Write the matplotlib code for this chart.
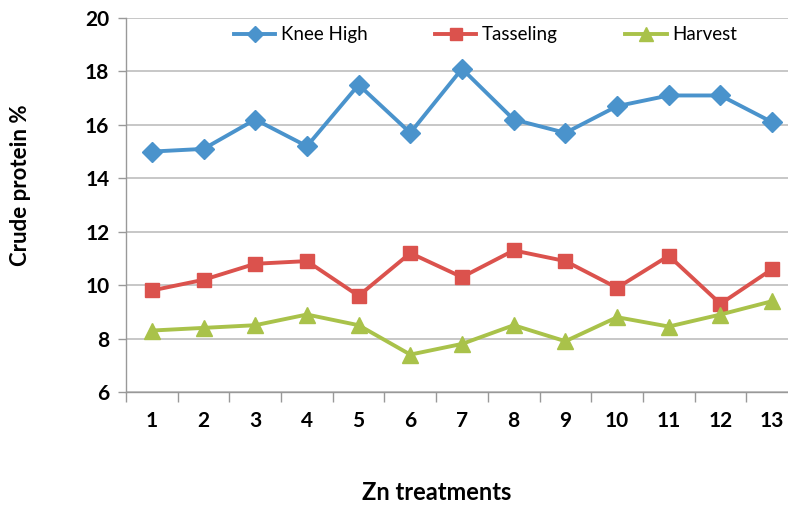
import matplotlib
matplotlib.use("Agg")
import matplotlib.pyplot as plt
import numpy as np

treatments = [str(i) for i in range(1, 14)]
knee_high = [15.0, 15.1, 16.2, 15.2, 17.5, 15.7, 18.1, 16.2, 15.7, 16.7, 17.1, 17.1, 16.1]
tasseling = [9.8, 10.2, 10.8, 10.9, 9.6, 11.2, 10.3, 11.3, 10.9, 9.9, 11.1, 9.3, 10.6]
harvest = [8.3, 8.4, 8.5, 8.9, 8.5, 7.4, 7.8, 8.5, 7.9, 8.8, 8.45, 8.9, 9.4]
y_ticks = [6, 8, 10, 12, 14, 16, 18, 20]

plt.rcParams['font.family'] = ['Lato', 'DejaVu Sans']

W, H = 788, 505
fig = plt.figure(figsize=(W / 100, H / 100), dpi=100)
ax = fig.add_axes([126 / W, (H - 392) / H, (798 - 126) / W, (392 - 18) / H])

x = np.arange(len(treatments))
blue, red, green = '#4A93CC', '#DB524D', '#A9C24A'
ax.plot(x, knee_high, color=blue, lw=2.8, marker='D', ms=10, label='Knee High')
ax.plot(x, tasseling, color=red, lw=2.8, marker='s', ms=10.5, label='Tasseling')
ax.plot(x, harvest, color=green, lw=2.8, marker='^', ms=12, label='Harvest')

ax.set_xlim(-0.5, len(treatments) - 0.5)
ax.set_ylim(6, 20)
ax.set_yticks(y_ticks)
ax.set_yticklabels([str(v) for v in y_ticks], fontsize=15, fontweight='bold')
ax.set_xticks(x)
ax.set_xticklabels(treatments, fontsize=15, fontweight='bold')
ax.set_xticks(np.arange(-0.5, len(treatments), 1), minor=True)
ax.tick_params(axis='x', which='major', length=0, pad=14)
ax.tick_params(axis='x', which='minor', length=7, color='#999999', width=1)
ax.tick_params(axis='y', length=6, color='#999999', width=1, pad=6)

ax.grid(axis='y', color='#BDBDBD', lw=1.2)
ax.set_axisbelow(True)
for side in ['top', 'right']:
    ax.spines[side].set_visible(False)
for side in ['left', 'bottom']:
    ax.spines[side].set_color('#999999')
    ax.spines[side].set_linewidth(1)

fig.text(21 / W, 1 - 185 / H, 'Crude protein %', fontsize=16, fontweight='bold',
         rotation=90, ha='center', va='center')
fig.text(437 / W, 1 - 492 / H, 'Zn treatments', fontsize=17, fontweight='bold',
         ha='center', va='center')

ax.legend(loc='center', bbox_to_anchor=(0.535, 0.955), ncol=3, frameon=False,
          fontsize=13.5, handlelength=2.2, columnspacing=3.6, handletextpad=0.3,
          markerscale=0.8)

fig.savefig('out.png', dpi=100)
